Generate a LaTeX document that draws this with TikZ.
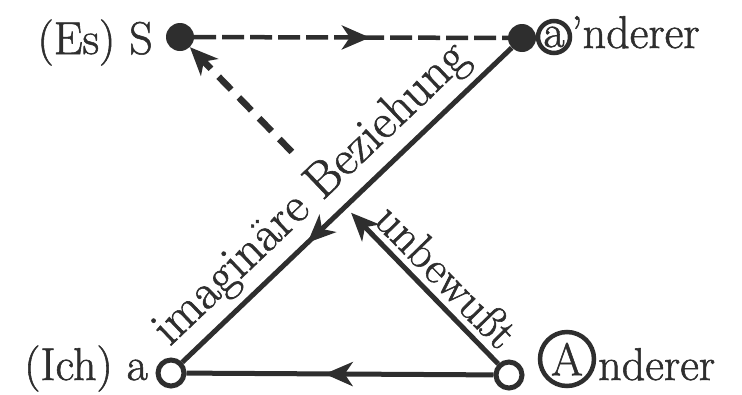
\documentclass[tikz,border=0pt]{standalone}
\usepackage{fontspec}
\usepackage{xcolor}
\usepackage{tikz}
\usetikzlibrary{arrows.meta,calc,decorations.markings}
\newfontfamily\inkfont{Latin Modern Roman}[FakeBold=1.2]
\definecolor{ink}{HTML}{2E2E2E}
\tikzset{
  dot/.style={circle, fill=ink, inner sep=0pt, minimum size=28pt},
  ring/.style={circle, draw=ink, fill=white, line width=5pt, inner sep=0pt, minimum size=26pt},
  lbl/.style={font=\inkfont\fontsize{46}{52}\selectfont, text=ink, inner sep=0pt},
  circ/.style={circle, draw=ink, line width=4.5pt, inner sep=0pt,
               font=\inkfont\fontsize{46}{52}\selectfont, text=ink},
  ar/.style={color=ink, line width=5pt},
  dshtop/.style={color=ink, line width=4.5pt, dash pattern=on 22pt off 6pt},
  dshdiag/.style={color=ink, line width=6.5pt, dash pattern=on 18pt off 11pt},
  midar/.style={postaction={decorate},
                decoration={markings, mark=at position #1 with {\arrow{>}}}},
}

\begin{document}
\begin{tikzpicture}[x=1pt,y=-1pt,>={Stealth[length=28pt,width=24pt,inset=8pt]}]
\useasboundingbox (0,0) rectangle (742,394);

% the four places
\node[dot] (S) at (180,37) {};
\node[dot] (ap) at (522,38) {};
\node[ring] (a) at (171,373) {};
\node[ring] (A) at (509,375) {};

\coordinate (cut) at ($(S)!0.34!(A)$);
\coordinate (meet) at ($(S)!0.52!(A)$);

% names
\node[lbl,anchor=base east] (es) at (153,54) {(Es) S};
\node[lbl,anchor=base east] (ich) at (148,380) {(Ich) a};
\node[circ,minimum size=32pt] (ca) at (554,37) {a};
\node[lbl,anchor=base west] (apname) at (571,48) {’nderer};
\node[circ,minimum size=54pt] (cA) at (567,359) {A};
\node[lbl,anchor=base west] (Aname) at (598,380) {nderer};

% S -> a'
\draw[dshtop,midar=0.56] (S) -- (ap);
% broken line back to S
\draw[dshdiag,->] (cut) -- (S);
% imaginary axis
\draw[ar,midar=0.62] (ap) -- (a)
   node[lbl,pos=0.54,above,sloped,inner sep=7pt,font=\inkfont\fontsize{50}{56}\selectfont]{imaginäre Beziehung};
% from A
\draw[ar,->] (A) -- (meet)
   node[lbl,pos=0.47,above,sloped,inner sep=6pt]{unbewußt};
\draw[ar,midar=0.55] (A) -- (a);
\end{tikzpicture}
\end{document}
